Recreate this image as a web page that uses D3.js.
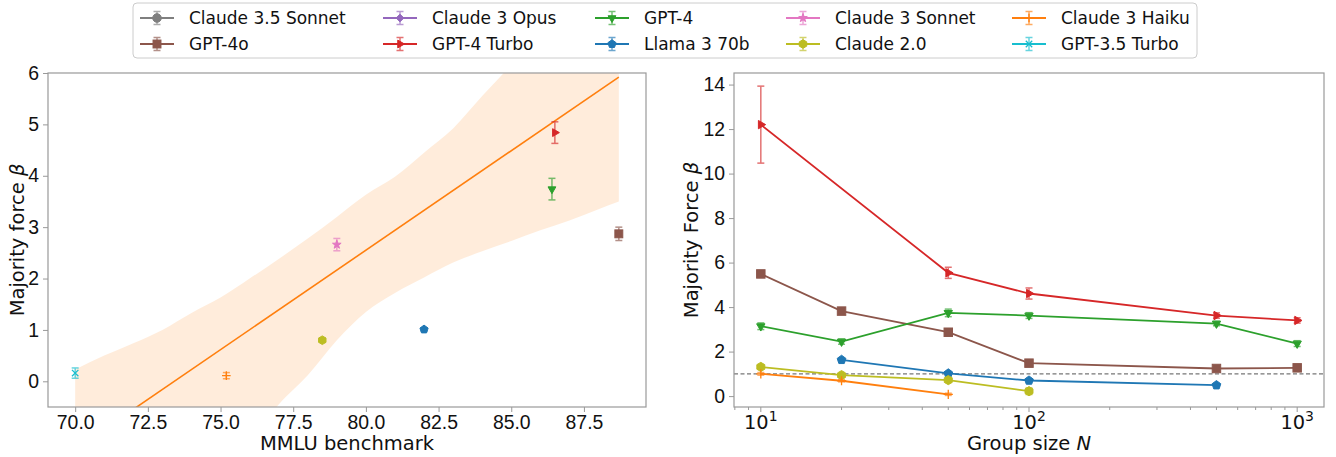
<!DOCTYPE html>
<html>
<head>
<meta charset="utf-8">
<script src="https://cdn.jsdelivr.net/npm/d3@7"></script>
<style>
  body { margin: 0; background: #fff; }
  svg { font-family: "DejaVu Sans", sans-serif; }
</style>
</head>
<body>
<svg id="chart" width="1336" height="457"></svg>
<script>
// models in legend order (column-major, 5 columns)
const models = ["Claude 3.5 Sonnet", "GPT-4o", "Claude 3 Opus", "GPT-4 Turbo", "GPT-4",
    "Llama 3 70b", "Claude 3 Sonnet", "Claude 2.0", "Claude 3 Haiku", "GPT-3.5 Turbo"];
const modelColors = ["#7f7f7f", "#8c564b", "#9467bd", "#d62728", "#2ca02c",
    "#1f77b4", "#e377c2", "#bcbd22", "#ff7f0e", "#17becf"];
const modelMarkers = ["o", "s", "D", ">", "v", "p", "*", "h", "+", "x"];

// left panel: majority force vs MMLU
const mmluModels = ["GPT-3.5 Turbo", "Claude 3 Haiku", "Claude 2.0", "Claude 3 Sonnet",
    "Llama 3 70b", "GPT-4", "GPT-4 Turbo", "GPT-4o"];
const mmluScores = [70.0, 75.2, 78.5, 79.0, 82.0, 86.4, 86.5, 88.7];
const mmluBeta = [0.16, 0.11, 0.80, 2.66, 1.01, 3.74, 4.84, 2.87];
const mmluBetaErr = [0.10, 0.06, 0.04, 0.12, 0.03, 0.21, 0.21, 0.13];

// linear fit and its band
const fitX = [70.0, 88.7];
const fitY = [-1.32, 5.92];
const bandX = [70, 71, 72, 73, 74, 75, 76, 77, 78, 79, 80, 81, 82, 83, 84, 85, 86, 87, 88, 88.7];
const bandHi = [0.23, 0.50, 0.74, 1.00, 1.33, 1.63, 2.00, 2.38, 2.78, 3.20, 3.63, 3.98, 4.45, 4.92, 5.55, 6.15, 6.70, 7.20, 7.70, 8.00];
const bandLo = [-5.4, -4.7, -4.0, -3.3, -2.6, -1.9, -1.2, -0.45, 0.12, 0.80, 1.35, 1.72, 2.02, 2.31, 2.53, 2.73, 2.94, 3.13, 3.35, 3.50];

// right panel: majority force vs group size
const groupSizes = [10, 20, 50, 100, 500, 1000];
const sizeModels = ["GPT-4 Turbo", "GPT-4o", "GPT-4", "Llama 3 70b", "Claude 2.0", "Claude 3 Haiku"];
const sizeBeta = [
    [12.2, null, 5.54, 4.61, 3.62, 3.40],
    [5.49, 3.82, 2.87, 1.48, 1.24, 1.27],
    [3.14, 2.45, 3.74, 3.62, 3.26, 2.36],
    [null, 1.63, 1.02, 0.70, 0.49, null],
    [1.31, 0.94, 0.72, 0.22, null, null],
    [1.00, 0.69, 0.08, null, null, null]
];
const sizeBetaErr = [
    [1.73, null, 0.25, 0.25, 0.12, 0.12],
    [0.09, 0.08, 0.08, 0.08, 0.08, 0.08],
    [0.15, 0.12, 0.17, 0.13, 0.10, 0.13],
    [null, 0.06, 0.05, 0.05, 0.05, null],
    [0.07, 0.07, 0.07, 0.15, null, null],
    [0.06, 0.05, 0.05, null, null, null]
];

const svg = d3.select("#chart");
const tickFont = 19.4, labelFont = 19.5, legendFont = 17;
const spineColor = "#999";

const colorOf = (m) => modelColors[models.indexOf(m)];
const markerOf = (m) => modelMarkers[models.indexOf(m)];

// draw a matplotlib-like marker centred at 0,0
function drawMarker(g, type, color, s) {
    const r = s / 2;
    const poly = (n, rot, rad) => d3.range(n).map(i => {
        const a = rot + i * 2 * Math.PI / n;
        return [rad * Math.cos(a), rad * Math.sin(a)];
    });
    const addPoly = (pts) => g.append("polygon").attr("points", pts.map(p => p.join(",")).join(" "))
        .attr("fill", color).attr("stroke", color).attr("stroke-width", 1);
    if (type === "o") {
        g.append("circle").attr("r", r).attr("fill", color).attr("stroke", color);
    } else if (type === "s") {
        g.append("rect").attr("x", -r * 0.92).attr("y", -r * 0.92).attr("width", r * 1.84).attr("height", r * 1.84)
            .attr("fill", color).attr("stroke", color);
    } else if (type === "D") {
        addPoly(poly(4, -Math.PI / 2, r * 0.9));
    } else if (type === "v") {
        addPoly(poly(3, Math.PI / 2, r * 1.05));
    } else if (type === ">") {
        addPoly(poly(3, 0, r * 1.05));
    } else if (type === "p") {
        addPoly(poly(5, -Math.PI / 2, r));
    } else if (type === "h") {
        addPoly(poly(6, -Math.PI / 2, r));
    } else if (type === "*") {
        const pts = d3.range(10).map(i => {
            const a = -Math.PI / 2 + i * Math.PI / 5;
            const rr = i % 2 === 0 ? r * 1.05 : r * 0.42;
            return [rr * Math.cos(a), rr * Math.sin(a)];
        });
        addPoly(pts);
    } else if (type === "+") {
        g.append("path").attr("d", `M${-r},0H${r}M0,${-r}V${r}`).attr("stroke", color).attr("stroke-width", 1.3);
    } else if (type === "x") {
        const q = r * 0.75;
        g.append("path").attr("d", `M${-q},${-q}L${q},${q}M${-q},${q}L${q},${-q}`).attr("stroke", color).attr("stroke-width", 1.3);
    }
}

function drawErrorBar(g, x, y0, y1, color, cap) {
    const eb = g.append("g").attr("stroke", color).attr("stroke-width", 1.5).attr("opacity", 0.65);
    eb.append("line").attr("x1", x).attr("x2", x).attr("y1", y0).attr("y2", y1);
    eb.append("line").attr("x1", x - cap).attr("x2", x + cap).attr("y1", y0).attr("y2", y0);
    eb.append("line").attr("x1", x - cap).attr("x2", x + cap).attr("y1", y1).attr("y2", y1);
}

function frame(g, w, h) {
    g.append("rect").attr("width", w).attr("height", h).attr("fill", "none")
        .attr("stroke", spineColor).attr("stroke-width", 1.2);
}

function styleAxis(sel) {
    sel.select(".domain").remove();
    sel.selectAll(".tick line").attr("stroke", spineColor).attr("stroke-width", 1);
    sel.selectAll(".tick text").attr("fill", "#111").style("font-size", tickFont + "px");
}

// ---------- left panel ----------
const L = { x: 48, y: 73, w: 598, h: 334 };
const xL = d3.scaleLinear().domain([69.065, 89.635]).range([0, L.w]);
const yL = d3.scaleLinear().domain([-0.5, 6]).range([L.h, 0]);
const gL = svg.append("g").attr("transform", `translate(${L.x},${L.y})`);

gL.append("clipPath").attr("id", "clipL").append("rect").attr("width", L.w).attr("height", L.h);
const plotL = gL.append("g").attr("clip-path", "url(#clipL)");

const bandArea = d3.area().curve(d3.curveMonotoneX)
    .x((d, i) => xL(bandX[i])).y0((d, i) => yL(bandLo[i])).y1((d, i) => yL(bandHi[i]));
plotL.append("path").datum(bandX).attr("d", bandArea).attr("fill", "#ff7f0e").attr("fill-opacity", 0.15);
plotL.append("path").datum(fitX)
    .attr("d", d3.line().x(d => xL(d)).y((d, i) => yL(fitY[i])))
    .attr("stroke", "#ff7f0e").attr("stroke-width", 1.6).attr("fill", "none");

mmluModels.forEach((m, i) => {
    const cx = xL(mmluScores[i]);
    drawErrorBar(plotL, cx, yL(mmluBeta[i] + mmluBetaErr[i]), yL(mmluBeta[i] - mmluBetaErr[i]), colorOf(m), 3.5);
    drawMarker(plotL.append("g").attr("transform", `translate(${cx},${yL(mmluBeta[i])})`), markerOf(m), colorOf(m), 8.6);
});

const axLx = gL.append("g").attr("transform", `translate(0,${L.h})`)
    .call(d3.axisBottom(xL).tickValues(d3.range(70, 88.8, 2.5)).tickFormat(d3.format(".1f")).tickSize(5).tickPadding(3));
styleAxis(axLx);
const axLy = gL.append("g").call(d3.axisLeft(yL).ticks(7).tickFormat(d3.format("d")).tickSize(5).tickPadding(4));
styleAxis(axLy);
frame(gL, L.w, L.h);

gL.append("text").attr("x", L.w / 2).attr("y", L.h + 43).attr("text-anchor", "middle")
    .style("font-size", labelFont + "px").attr("fill", "#111").text("MMLU benchmark");
const ylabL = gL.append("text").attr("transform", `translate(-24,${L.h / 2}) rotate(-90)`)
    .attr("text-anchor", "middle").style("font-size", labelFont + "px").attr("fill", "#111");
ylabL.append("tspan").text("Majority force ");
ylabL.append("tspan").attr("font-style", "italic").text("β");

// ---------- right panel ----------
const R = { x: 734, y: 73, w: 590, h: 334 };
const xR = d3.scaleLog().domain([Math.pow(10, 0.9), Math.pow(10, 3.1)]).range([0, R.w]);
const yR = d3.scaleLinear().domain([-0.49, 14.52]).range([R.h, 0]);
const gR = svg.append("g").attr("transform", `translate(${R.x},${R.y})`);
gR.append("clipPath").attr("id", "clipR").append("rect").attr("width", R.w).attr("height", R.h);
const plotR = gR.append("g").attr("clip-path", "url(#clipR)");

plotR.append("line").attr("x1", 0).attr("x2", R.w).attr("y1", yR(1)).attr("y2", yR(1))
    .attr("stroke", "#777").attr("stroke-width", 1.2).attr("stroke-dasharray", "4,2.5");

sizeModels.forEach((m, k) => {
    const c = colorOf(m);
    const pts = groupSizes.map((n, i) => ({ n, v: sizeBeta[k][i], e: sizeBetaErr[k][i] })).filter(d => d.v !== null);
    plotR.append("path").datum(pts)
        .attr("d", d3.line().x(d => xR(d.n)).y(d => yR(d.v)))
        .attr("stroke", c).attr("stroke-width", 1.8).attr("fill", "none");
    pts.forEach(d => {
        drawErrorBar(plotR, xR(d.n), yR(d.v + d.e), yR(d.v - d.e), c, 3.5);
        drawMarker(plotR.append("g").attr("transform", `translate(${xR(d.n)},${yR(d.v)})`), markerOf(m), c, 9.2);
    });
});

// log x axis with minor ticks
const majorTicks = [10, 100, 1000];
const minorTicks = [];
[1, 10, 100, 1000].forEach(dec => d3.range(2, 10).forEach(j => {
    const v = dec * j;
    if (v >= xR.domain()[0] && v <= xR.domain()[1]) minorTicks.push(v);
}));
const axRx = gR.append("g").attr("transform", `translate(0,${R.h})`);
minorTicks.forEach(v => axRx.append("line").attr("x1", xR(v)).attr("x2", xR(v)).attr("y1", 0).attr("y2", 3)
    .attr("stroke", spineColor));
majorTicks.forEach(v => {
    axRx.append("line").attr("x1", xR(v)).attr("x2", xR(v)).attr("y1", 0).attr("y2", 5).attr("stroke", spineColor);
    const t = axRx.append("text").attr("x", xR(v)).attr("y", 22).attr("text-anchor", "middle")
        .style("font-size", tickFont + "px").attr("fill", "#111");
    t.append("tspan").text("10");
    t.append("tspan").attr("dy", -8).style("font-size", (tickFont * 0.72) + "px").text(Math.round(Math.log10(v)));
});
const axRy = gR.append("g").call(d3.axisLeft(yR).tickValues(d3.range(0, 15, 2)).tickFormat(d3.format("d")).tickSize(5).tickPadding(4));
styleAxis(axRy);
frame(gR, R.w, R.h);

const xlabR = gR.append("text").attr("x", R.w / 2).attr("y", R.h + 43).attr("text-anchor", "middle")
    .style("font-size", labelFont + "px").attr("fill", "#111");
xlabR.append("tspan").text("Group size ");
xlabR.append("tspan").attr("font-style", "italic").text("N");
const ylabR = gR.append("text").attr("transform", `translate(-36,${R.h / 2}) rotate(-90)`)
    .attr("text-anchor", "middle").style("font-size", labelFont + "px").attr("fill", "#111");
ylabR.append("tspan").text("Majority Force ");
ylabR.append("tspan").attr("font-style", "italic").text("β");

// ---------- legend ----------
const legend = svg.append("g");
legend.append("rect").attr("x", 133).attr("y", 3).attr("width", 1064).attr("height", 55).attr("rx", 4)
    .attr("fill", "#fff").attr("stroke", "#ccc").attr("stroke-width", 1);
const colX = [140, 383, 595, 786, 1012];
const rowY = [18, 44];
models.forEach((m, i) => {
    const hx = colX[Math.floor(i / 2)], hy = rowY[i % 2];
    const c = modelColors[i];
    const item = legend.append("g");
    item.append("line").attr("x1", hx).attr("x2", hx + 34).attr("y1", hy).attr("y2", hy)
        .attr("stroke", c).attr("stroke-width", 1.8);
    drawErrorBar(item, hx + 17, hy - 6.5, hy + 6.5, c, 3.5);
    drawMarker(item.append("g").attr("transform", `translate(${hx + 17},${hy})`), modelMarkers[i], c, 8.6);
    item.append("text").attr("x", hx + 49).attr("y", hy + 6).style("font-size", legendFont + "px")
        .attr("fill", "#111").text(m);
});
</script>
</body>
</html>
